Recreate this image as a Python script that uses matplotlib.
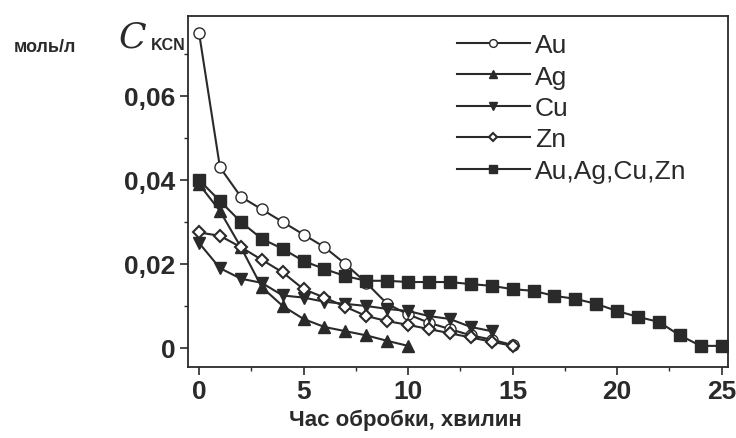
import matplotlib
matplotlib.use('Agg')
import matplotlib.pyplot as plt
from matplotlib.ticker import MultipleLocator, FuncFormatter

matplotlib.rcParams['font.family'] = ['Liberation Sans', 'DejaVu Sans']

# час обробки, хв / концентрація KCN, моль/л
au_t = [0, 1, 2, 3, 4, 5, 6, 7, 8, 9, 10, 11, 12, 13, 14, 15]
au_c = [0.075, 0.043, 0.036, 0.033, 0.030, 0.027, 0.024, 0.020, 0.0155, 0.0105,
        0.008, 0.006, 0.0045, 0.003, 0.002, 0.0007]

ag_t = [0, 1, 2, 3, 4, 5, 6, 7, 8, 9, 10]
ag_c = [0.039, 0.0326, 0.024, 0.0145, 0.0100, 0.0069, 0.005, 0.004, 0.003, 0.0017, 0.0005]

cu_t = [0, 1, 2, 3, 4, 5, 6, 7, 8, 9, 10, 11, 12, 13, 14]
cu_c = [0.025, 0.019, 0.0165, 0.0155, 0.0125, 0.012, 0.011, 0.0105, 0.010, 0.0093,
        0.0088, 0.0076, 0.0069, 0.005, 0.004]

zn_t = [0, 1, 2, 3, 4, 5, 6, 7, 8, 9, 10, 11, 12, 13, 14, 15]
zn_c = [0.0275, 0.0267, 0.024, 0.021, 0.018, 0.014, 0.012, 0.0098, 0.0076, 0.0064,
        0.0055, 0.0045, 0.0035, 0.0025, 0.0015, 0.0005]

mix_t = list(range(0, 26))
mix_c = [0.040, 0.035, 0.030, 0.026, 0.0236, 0.0207, 0.0188, 0.0171, 0.016, 0.016,
         0.0157, 0.0157, 0.0157, 0.0152, 0.0148, 0.014, 0.0136, 0.0124, 0.0117, 0.0105,
         0.0088, 0.0074, 0.0062, 0.003, 0.0005, 0.0005]

fig = plt.figure(figsize=(7.36, 4.39), dpi=100)
ax = fig.add_axes([0.2554, 0.162, 0.7336, 0.799])

col = '#2a2a2a'
kw = dict(color=col, lw=1.5, ms=8, mec=col)
ax.plot(au_t, au_c, marker='o', mfc='white', label='Au', **kw)
ax.plot(ag_t, ag_c, marker='^', mfc=col, label='Ag', **kw)
ax.plot(cu_t, cu_c, marker='v', mfc=col, label='Cu', **kw)
ax.plot(zn_t, zn_c, marker='D', mfc='white', label='Zn', color=col, lw=1.5, ms=6.5, mec=col, mew=1.5)
ax.plot(mix_t, mix_c, marker='s', mfc=col, label='Au,Ag,Cu,Zn', **kw)

ax.set_xlim(-0.53, 25.3)
ax.set_ylim(-0.0045, 0.079)
ax.xaxis.set_major_locator(MultipleLocator(5))
ax.xaxis.set_minor_locator(MultipleLocator(2.5))
ax.yaxis.set_major_locator(MultipleLocator(0.02))
ax.yaxis.set_minor_locator(MultipleLocator(0.01))
ax.yaxis.set_major_formatter(FuncFormatter(lambda v, p: '0' if abs(v) < 1e-9 else f'{v:.2f}'.replace('.', ',')))

ax.tick_params(which='major', direction='out', length=6, width=1.2, labelsize=19, colors=col, pad=3)
ax.tick_params(which='minor', direction='out', length=3, width=1, colors=col)
for lab in ax.get_xticklabels() + ax.get_yticklabels():
    lab.set_fontweight('bold')
for s in ax.spines.values():
    s.set_linewidth(1.3)
    s.set_color(col)

fig.text(405 / 736, 1 - 420 / 439, 'Час обробки, хвилин', fontsize=16, fontweight='bold',
         color=col, ha='center', va='center')

fig.text(119 / 736, 1 - 20 / 439, 'C', fontsize=26, style='italic', family='DejaVu Serif',
         color=col, ha='left', va='top')
fig.text(151 / 736, 1 - 50 / 439, 'KCN', fontsize=11.5, fontweight='bold', color=col,
         ha='left', va='baseline')
fig.text(14 / 736, 1 - 47 / 439, 'моль/л', fontsize=13, fontweight='bold', color=col,
         ha='left', va='center')

leg = ax.legend(loc='upper left', bbox_to_anchor=(444 / 736, 1 - 21 / 439), bbox_transform=fig.transFigure,
                frameon=False, fontsize=19, handlelength=2.75, handletextpad=0.2,
                labelspacing=0.28, markerscale=0.7, borderpad=0)
for t in leg.get_texts():
    t.set_color(col)

fig.savefig('out.png', dpi=100)
